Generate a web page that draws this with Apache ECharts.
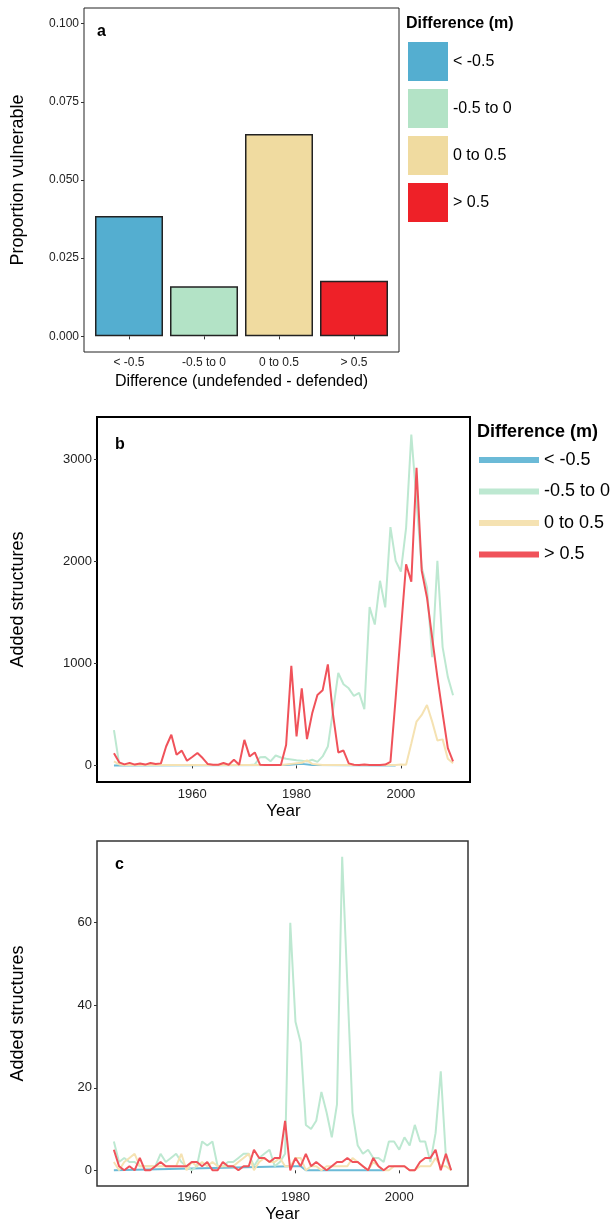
<!DOCTYPE html>
<html>
<head>
<meta charset="utf-8">
<script src="https://cdn.jsdelivr.net/npm/echarts@6/dist/echarts.min.js"></script>
<style>
  html, body { margin: 0; padding: 0; background: #fff; }
  #chart { width: 615px; height: 1224px; }
</style>
</head>
<body>
<div id="chart"></div>
<script>
"use strict";

// categories (difference classes)
var categories = ['< -0.5', '-0.5 to 0', '0 to 0.5', '> 0.5'];
var barColors = ['#54AED0', '#B3E3C6', '#F0DBA0', '#EE2128'];
var lineColors = ['#6BBAD7', '#BDE8D1', '#F5E2B2', '#F0525A'];

// panel a: proportion vulnerable
var proportion = [0.0385, 0.0160, 0.0647, 0.0178];
var propTicks = [0, 0.025, 0.05, 0.075, 0.1];

// panels b and c: years
var years = [1945, 1946, 1947, 1948, 1949, 1950, 1951, 1952, 1953, 1954,
    1955, 1956, 1957, 1958, 1959, 1960, 1961, 1962, 1963, 1964,
    1965, 1966, 1967, 1968, 1969, 1970, 1971, 1972, 1973, 1974,
    1975, 1976, 1977, 1978, 1979, 1980, 1981, 1982, 1983, 1984,
    1985, 1986, 1987, 1988, 1989, 1990, 1991, 1992, 1993, 1994,
    1995, 1996, 1997, 1998, 1999, 2000, 2001, 2002, 2003, 2004,
    2005, 2006, 2007, 2008, 2009, 2010];
var yearTicks = [1960, 1980, 2000];

// panel b: added structures (all)
var blueYearsB = [1945, 1978, 1981, 1983, 1999];
var blueB = [0, 3, 15, 3, 0];
var greenB = [345, 15, 5, 5, 5, 5, 5, 5, 5, 5,
    5, 5, 5, 5, 5, 5, 5, 5, 5, 5,
    5, 5, 5, 5, 5, 5, 5, 10, 80, 82,
    40, 97, 78, 65, 58, 50, 45, 39, 55, 35,
    88, 185, 540, 905, 795, 755, 680, 710, 550, 1550,
    1380, 1808, 1548, 2334, 2003, 1899, 2327, 3240, 2587, 1938,
    1743, 1061, 2003, 1159, 867, 688];
var tanB = [40, 10, 5, 5, 5, 5, 5, 5, 5, 5,
    5, 5, 5, 5, 5, 5, 5, 5, 5, 5,
    5, 5, 5, 5, 5, 5, 5, 5, 5, 5,
    5, 5, 5, 10, 15, 20, 25, 50, 15, 10,
    5, 5, 5, 5, 5, 5, 5, 5, 5, 5,
    5, 5, 5, 5, 5, 10, 7, 215, 430, 494,
    591, 429, 245, 255, 65, 20];
var redB = [120, 30, 10, 25, 8, 18, 8, 23, 13, 20,
    185, 300, 105, 145, 46, 82, 121, 72, 13, 7,
    7, 23, 7, 55, 7, 250, 88, 127, 7, 3,
    3, 3, 3, 200, 975, 285, 755, 258, 510, 690,
    735, 990, 495, 127, 146, 20, 7, 5, 8, 5,
    3, 5, 8, 35, 660, 1320, 1970, 1800, 2915, 1905,
    1645, 1250, 865, 510, 170, 40];
var ticksB = [0, 1000, 2000, 3000];

// panel c: added structures (subset)
var blueYearsC = [1945, 1979, 1981, 1982, 1997];
var blueC = [0, 1, 1, 0, 0];
var greenC = [7, 2, 3, 2, 2, 1, 1, 1, 1, 4,
    2, 3, 4, 2, 1, 0, 1, 7, 6, 7,
    1, 1, 2, 2, 3, 4, 4, 1, 3, 4,
    5, 1, 2, 4, 60, 36, 31, 11, 10, 12,
    19, 14, 8, 16, 76, 45, 14, 6, 4, 5,
    3, 3, 2, 7, 7, 5, 8, 6, 11, 7,
    7, 2, 9, 24, 3, 0];
var tanC = [2, 0, 2, 3, 4, 1, 1, 1, 1, 1,
    1, 1, 1, 4, 0, 2, 1, 2, 1, 2,
    1, 1, 1, 1, 2, 3, 4, 0, 2, 3,
    2, 2, 3, 1, 1, 3, 3, 0, 1, 1,
    0, 1, 1, 1, 1, 1, 3, 2, 1, 0,
    2, 1, 0, 0, 1, 1, 1, 0, 0, 1,
    1, 1, 3, 1, 1, 0];
var redC = [5, 1, 0, 1, 0, 3, 0, 0, 1, 2,
    1, 1, 1, 1, 1, 2, 2, 1, 2, 0,
    0, 2, 1, 1, 0, 1, 1, 5, 3, 3,
    2, 3, 3, 12, 0, 3, 1, 4, 1, 2,
    1, 0, 1, 2, 2, 3, 2, 2, 1, 0,
    3, 1, 0, 1, 1, 1, 1, 0, 0, 2,
    3, 3, 5, 0, 4, 0];
var ticksC = [0, 20, 40, 60];

var FONT = "'Liberation Sans', Arial, sans-serif";

function pairs(xs, ys) {
    return xs.map(function (x, i) { return [x, ys[i]]; });
}

function plain(v) {
    return String(v);
}

function yearAxis(gridIndex, margin, gap) {
    return {
        type: 'value', gridIndex: gridIndex,
        min: 1941.75, max: 2013.25,
        name: 'Year', nameLocation: 'middle', nameGap: gap,
        nameTextStyle: {fontFamily: FONT, fontSize: 17, color: '#000'},
        axisLine: {show: false},
        axisTick: {show: true, length: 3, customValues: yearTicks, lineStyle: {color: '#333'}},
        axisLabel: {customValues: yearTicks, margin: margin, formatter: plain,
            fontFamily: FONT, fontSize: 13, color: '#222'},
        splitLine: {show: false}
    };
}

function countAxis(gridIndex, min, max, ticks) {
    return {
        type: 'value', gridIndex: gridIndex,
        min: min, max: max,
        name: 'Added structures', nameLocation: 'middle', nameGap: 70, nameRotate: 90,
        nameTextStyle: {fontFamily: FONT, fontSize: 18, color: '#000'},
        axisLine: {show: false},
        axisTick: {show: true, length: 3, customValues: ticks, lineStyle: {color: '#333'}},
        axisLabel: {customValues: ticks, margin: 5, formatter: plain,
            fontFamily: FONT, fontSize: 13, color: '#222'},
        splitLine: {show: false}
    };
}

var series = [];
categories.forEach(function (name, i) {
    series.push({
        name: name, type: 'bar', xAxisIndex: 0, yAxisIndex: 0,
        barWidth: 68, barGap: '-100%',
        itemStyle: {color: barColors[i], borderColor: '#222', borderWidth: 1.5},
        data: [[i + 1, proportion[i]]]
    });
});

var dataB = [pairs(blueYearsB, blueB), pairs(years, greenB), pairs(years, tanB), pairs(years, redB)];
var dataC = [pairs(blueYearsC, blueC), pairs(years, greenC), pairs(years, tanC), pairs(years, redC)];
[dataB, dataC].forEach(function (set, p) {
    set.forEach(function (d, i) {
        series.push({
            name: categories[i], type: 'line', xAxisIndex: p + 1, yAxisIndex: p + 1,
            showSymbol: false, symbol: 'none',
            lineStyle: {color: lineColors[i], width: 2},
            itemStyle: {color: lineColors[i]},
            data: d
        });
    });
});

var labelStyle = {fontFamily: FONT, fontSize: 16, fontWeight: 'bold', color: '#000'};

var chart = echarts.init(document.getElementById('chart'));
chart.setOption({
    animation: false,
    backgroundColor: '#fff',
    title: [
        {text: 'a', left: 97, top: 24, padding: 0, textStyle: labelStyle},
        {text: 'b', left: 115, top: 437, padding: 0, textStyle: labelStyle},
        {text: 'c', left: 115, top: 857, padding: 0, textStyle: labelStyle},
        {text: 'Difference (m)', left: 406, top: 16, padding: 0,
            textStyle: {fontFamily: FONT, fontSize: 16, fontWeight: 'bold', color: '#000'}},
        {text: 'Difference (m)', left: 477, top: 423, padding: 0,
            textStyle: {fontFamily: FONT, fontSize: 18, fontWeight: 'bold', color: '#000'}}
    ],
    legend: [{
        left: 408, top: 42, orient: 'vertical', padding: 0,
        selectedMode: false,
        itemWidth: 40, itemHeight: 39, itemGap: 8,
        itemStyle: {borderWidth: 0},
        textStyle: {fontFamily: FONT, fontSize: 16, color: '#000'},
        data: categories.map(function (c, i) {
            return {name: c, icon: 'rect', itemStyle: {color: barColors[i], borderWidth: 0}};
        })
    }, {
        left: 479, top: 450, orient: 'vertical', padding: 0,
        selectedMode: false,
        itemWidth: 60, itemHeight: 6, itemGap: 11.5,
        itemStyle: {borderWidth: 0},
        textStyle: {fontFamily: FONT, fontSize: 18, lineHeight: 20, color: '#000'},
        data: categories.map(function (c, i) {
            return {name: c, icon: 'rect', itemStyle: {color: lineColors[i], borderWidth: 0}};
        })
    }],
    grid: [
        {left: 84, top: 8, width: 315, height: 344, show: true, borderColor: '#222', borderWidth: 1, backgroundColor: 'transparent'},
        {left: 97, top: 417, width: 373, height: 365, show: true, borderColor: '#000', borderWidth: 2, backgroundColor: 'transparent'},
        {left: 97, top: 841, width: 371, height: 345, show: true, borderColor: '#333', borderWidth: 1.5, backgroundColor: 'transparent'}
    ],
    xAxis: [{
        type: 'value', gridIndex: 0, min: 0.4, max: 4.6,
        name: 'Difference (undefended - defended)', nameLocation: 'middle', nameGap: 22,
        nameTextStyle: {fontFamily: FONT, fontSize: 16, color: '#000'},
        axisLine: {show: false},
        axisTick: {show: true, length: 3, customValues: [1, 2, 3, 4], lineStyle: {color: '#333'}},
        axisLabel: {
            customValues: [1, 2, 3, 4], margin: 5,
            fontFamily: FONT, fontSize: 12, color: '#222',
            formatter: function (v) { return categories[Math.round(v) - 1]; }
        },
        splitLine: {show: false}
    }, yearAxis(1, 6, 21), yearAxis(2, 5, 20)],
    yAxis: [{
        type: 'value', gridIndex: 0, min: -0.005, max: 0.105,
        name: 'Proportion vulnerable', nameLocation: 'middle', nameGap: 57, nameRotate: 90,
        nameTextStyle: {fontFamily: FONT, fontSize: 18, color: '#000'},
        axisLine: {show: false},
        axisTick: {show: true, length: 3, customValues: propTicks, lineStyle: {color: '#333'}},
        axisLabel: {
            customValues: propTicks, margin: 5,
            fontFamily: FONT, fontSize: 12, color: '#222',
            formatter: function (v) { return v.toFixed(3); }
        },
        splitLine: {show: false}
    }, countAxis(1, -162.5, 3412.5, ticksB), countAxis(2, -3.8, 79.8, ticksC)],
    series: series
});
</script>
</body>
</html>
